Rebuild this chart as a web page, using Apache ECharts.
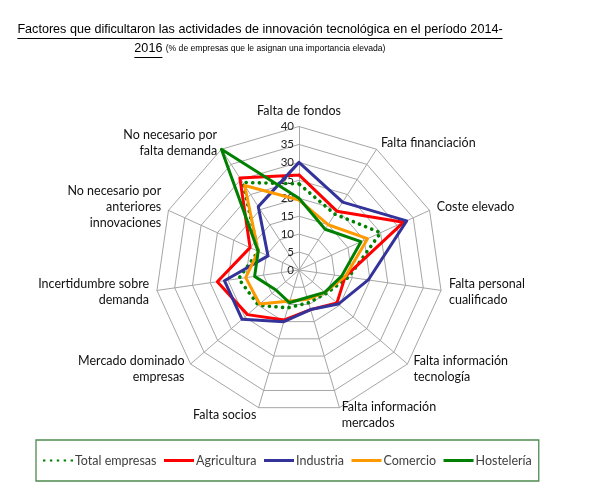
<!DOCTYPE html>
<html>
<head>
<meta charset="utf-8">
<script src="https://cdn.jsdelivr.net/npm/echarts@6/dist/echarts.min.js"></script>
<style>
    html, body { margin: 0; background: #fff; }
    #chart { width: 596px; height: 500px; }
</style>
</head>
<body>
<div id="chart"></div>
<script>
// factores, en el orden de las agujas del reloj desde arriba
const factores = [
    'Falta de fondos',
    'Falta financiación',
    'Coste elevado',
    'Falta personal\ncualificado',
    'Falta información\ntecnología',
    'Falta información\nmercados',
    'Falta socios',
    'Mercado dominado\nempresas',
    'Incertidumbre sobre\ndemanda',
    'No necesario por\nanteriores\ninnovaciones',
    'No necesario por\nfalta demanda'
];
const totalEmpresas = [24, 18.5, 25, 14, 10, 9.5, 11, 15, 17, 12.5, 29];
const agricultura   = [26.5, 19.5, 32, 13, 14, 11.5, 14.5, 19, 23, 15, 30.5];
const industria     = [30, 22.5, 33, 19.5, 14.5, 11.5, 15, 21, 21, 9.5, 21];
const comercio      = [19.5, 15, 21, 13, 9.5, 8.5, 9, 14.5, 15, 12.5, 28];
const hosteleria    = [20, 13.5, 19, 12, 9.5, 8, 9.5, 8.5, 12.5, 12.5, 40];
const escalaMin = 0;
const escalaMax = 40;
const escalaPaso = 5;

const titulo1 = 'Factores que dificultaron las actividades de innovación tecnológica en el período 2014-';
const titulo2a = '2016';
const titulo2b = '(% de empresas que le asignan una importancia elevada)';

const fuenteTitulo = 'Liberation Sans';
const fuente = 'Lato';
const centro = [299, 270];
const radio = 143.5;
const tituloX = 260;
const tamTitulo = 12.6;
const tamSub = 8.6;

// echarts radar runs counter-clockwise, so flip everything after the first
function girar(arr) {
    return [arr[0]].concat(arr.slice(1).reverse());
}

function ancho(texto, size) {
    let ctx = document.createElement('canvas').getContext('2d');
    ctx.font = size + 'px "' + fuenteTitulo + '"';
    return ctx.measureText(texto).width;
}

let w1 = ancho(titulo1, tamTitulo);
let w2a = ancho(titulo2a, tamTitulo);
let w2 = w2a + ancho(' ', tamTitulo) + ancho(titulo2b, tamSub);
let x2 = tituloX - w2 / 2;

function serie(nombre, datos, color, tipo, grosor) {
    return {
        type: 'radar',
        name: nombre,
        symbol: 'none',
        silent: true,
        color: color,
        itemStyle: { color: color },
        lineStyle: { color: color, width: grosor, type: tipo, cap: 'round' },
        data: [{ name: nombre, value: girar(datos) }]
    };
}

let chart = echarts.init(document.getElementById('chart'));
chart.setOption({
    animation: false,
    backgroundColor: '#fff',
    graphic: [
        {
            type: 'text', x: tituloX, y: 30,
            style: {
                text: titulo1, textAlign: 'center', textVerticalAlign: 'middle',
                font: tamTitulo + 'px "' + fuenteTitulo + '"', fill: '#000'
            }
        },
        {
            type: 'line', shape: { x1: tituloX - w1 / 2, y1: 38.5, x2: tituloX + w1 / 2, y2: 38.5 },
            style: { stroke: '#000', lineWidth: 1 }
        },
        {
            type: 'text', x: x2, y: 49,
            style: {
                text: '{a|' + titulo2a + '} {b|' + titulo2b + '}',
                textAlign: 'left', textVerticalAlign: 'middle',
                rich: {
                    a: { fontFamily: fuenteTitulo, fontSize: tamTitulo, color: '#000' },
                    b: { fontFamily: fuenteTitulo, fontSize: tamSub, color: '#000' }
                }
            }
        },
        {
            type: 'line', shape: { x1: x2, y1: 57.5, x2: x2 + w2a, y2: 57.5 },
            style: { stroke: '#000', lineWidth: 1 }
        }
    ],
    legend: {
        left: 36,
        top: 440,
        borderColor: '#4f8a4f',
        borderWidth: 1.3,
        padding: [14, 7, 14, 7],
        itemGap: 7.5,
        itemWidth: 30,
        itemHeight: 3,
        textStyle: { fontFamily: fuente, fontSize: 12.5, color: '#404040', padding: [0, 0, 0, -3] },
        data: [
            { name: 'Total empresas', icon: 'path://M0,0h2.4v2h-2.4zM6.9,0h2.4v2h-2.4zM13.8,0h2.4v2h-2.4zM20.7,0h2.4v2h-2.4zM27.6,0h2.4v2h-2.4z' },
            { name: 'Agricultura', icon: 'rect' },
            { name: 'Industria', icon: 'rect' },
            { name: 'Comercio', icon: 'rect' },
            { name: 'Hostelería', icon: 'rect' }
        ]
    },
    radar: {
        center: centro,
        radius: radio,
        startAngle: 90,
        splitNumber: (escalaMax - escalaMin) / escalaPaso,
        shape: 'polygon',
        nameGap: 8,
        axisName: { color: '#111', fontFamily: fuente, fontSize: 12.5, lineHeight: 16 },
        axisLine: { lineStyle: { color: '#a6a6a6', width: 1 } },
        splitLine: { lineStyle: { color: '#a6a6a6', width: 1 } },
        splitArea: { show: false },
        indicator: girar(factores).map(function (n) {
            return { name: n, min: escalaMin, max: escalaMax };
        })
    },
    // polar overlay only to print the scale next to the first axis
    polar: { center: centro, radius: radio },
    angleAxis: { type: 'value', min: 0, max: 360, startAngle: 90, show: false },
    radiusAxis: {
        type: 'value', min: escalaMin, max: escalaMax, interval: escalaPaso,
        axisLine: { show: false }, axisTick: { show: false }, splitLine: { show: false },
        axisLabel: { fontFamily: fuente, fontSize: 11.5, color: '#222', margin: 5 }
    },
    series: [
        serie('Total empresas', totalEmpresas, '#008000', [0.1, 6.5], 3.6),
        serie('Agricultura', agricultura, '#ff0000', 'solid', 3),
        serie('Industria', industria, '#333399', 'solid', 3),
        serie('Comercio', comercio, '#ff9900', 'solid', 3),
        serie('Hostelería', hosteleria, '#008000', 'solid', 3)
    ]
});
</script>
</body>
</html>
